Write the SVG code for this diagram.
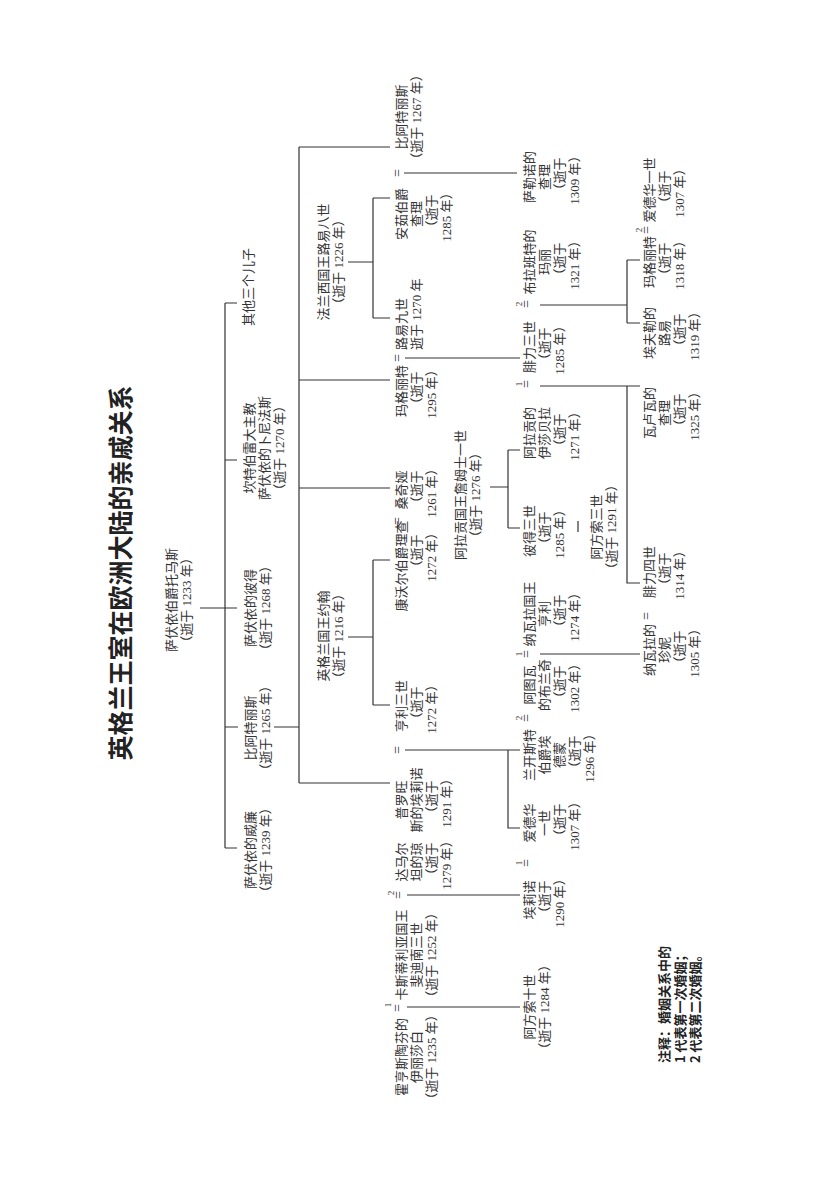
<svg xmlns="http://www.w3.org/2000/svg" width="826" height="1186" viewBox="0 0 826 1186">
<style>
.t{font-family:"Liberation Serif","Noto Sans CJK SC",serif;font-size:13px;fill:#333;text-anchor:middle}
.st{text-anchor:start}
.title{font-size:25px;font-weight:bold;fill:#222}
.note{font-family:"Noto Sans CJK SC",sans-serif;font-size:13px;font-weight:bold;fill:#222;text-anchor:start}
.eq{font-family:"Liberation Serif",serif;font-size:14px;fill:#333;text-anchor:middle}
.sup{font-family:"Liberation Serif",serif;font-size:9px;fill:#333;text-anchor:middle}
.c{fill:none;stroke:#333;stroke-width:1.2}
</style>
<rect width="826" height="1186" fill="#fff"/>
<g id="connectors">
<path class="c" d="M200,608H237M225,303V848M225,303H237M225,460H237M225,848H237M225,727H238M274,727H299"/>
<path class="c" d="M299,147V783M299,147H390M299,380H390M299,488H390M299,783H390"/>
<path class="c" d="M348,262H373M373,198V318M373,198H390M373,318H390"/>
<path class="c" d="M348,637H373M373,560V705M373,560H390M373,705H390"/>
<path class="c" d="M404,173H517"/>
<path class="c" d="M405,358H520"/>
<path class="c" d="M405,750H520M508,750V828H520"/>
<path class="c" d="M407,895H520M407,1007H520"/>
<path class="c" d="M490,487H508M508,450V528M508,450H520M508,528H520M578,521V532"/>
<path class="c" d="M540,305H627M627,260V323M627,260H640M627,323H640"/>
<path class="c" d="M540,386H640M627,386V583H640"/>
<path class="c" d="M540,654H640"/>
</g>
<g id="marks">
<text class="eq" transform="translate(402,173) rotate(-90)">=</text>
<text class="eq" transform="translate(402,358) rotate(-90)">=</text>
<text class="eq" transform="translate(402,521) rotate(-90)">=</text>
<text class="eq" transform="translate(402,750) rotate(-90)">=</text>
<text class="eq" transform="translate(403,895) rotate(-90)">=</text>
<text class="sup" transform="translate(394,893) rotate(-90)">2</text>
<text class="eq" transform="translate(402,1008) rotate(-90)">=</text>
<text class="sup" transform="translate(391,1005) rotate(-90)">1</text>
<text class="eq" transform="translate(531,304) rotate(-90)">=</text>
<text class="sup" transform="translate(522,304) rotate(-90)">2</text>
<text class="eq" transform="translate(531,384) rotate(-90)">=</text>
<text class="sup" transform="translate(522,384) rotate(-90)">1</text>
<text class="eq" transform="translate(531,654) rotate(-90)">=</text>
<text class="sup" transform="translate(522,654) rotate(-90)">1</text>
<text class="eq" transform="translate(531,718) rotate(-90)">=</text>
<text class="sup" transform="translate(522,718) rotate(-90)">2</text>
<text class="eq" transform="translate(531,863) rotate(-90)">=</text>
<text class="sup" transform="translate(522,863) rotate(-90)">1</text>
<text class="eq" transform="translate(651,230) rotate(-90)">=</text>
<text class="sup" transform="translate(642,230) rotate(-90)">2</text>
<text class="eq" transform="translate(651,616) rotate(-90)">=</text>
</g>
<g id="title"><text class="t title" transform="translate(130,573) rotate(-90)">英格兰王室在欧洲大陆的亲戚关系</text></g>
<g id="thomas"><text class="t" transform="translate(176,600) rotate(-90)"><tspan x="0" y="0">萨伏依伯爵托马斯</tspan><tspan x="0" y="15">（逝于 1233 年）</tspan></text></g>
<g id="others"><text class="t" transform="translate(253,287) rotate(-90)">其他三个儿子</text></g>
<g id="boniface"><text class="t" transform="translate(254,448) rotate(-90)"><tspan x="0" y="0">坎特伯雷大主教</tspan><tspan x="0" y="15">萨伏依的卜尼法斯</tspan><tspan x="0" y="30">（逝于 1270 年）</tspan></text></g>
<g id="peter"><text class="t" transform="translate(255,608) rotate(-90)"><tspan x="0" y="0">萨伏依的彼得</tspan><tspan x="0" y="15">（逝于 1268 年）</tspan></text></g>
<g id="beatrice1265"><text class="t" transform="translate(255,728) rotate(-90)"><tspan x="0" y="0">比阿特丽斯</tspan><tspan x="0" y="15">（逝于 1265 年）</tspan></text></g>
<g id="william"><text class="t" transform="translate(255,850) rotate(-90)"><tspan x="0" y="0">萨伏依的威廉</tspan><tspan x="0" y="15">（逝于 1239 年）</tspan></text></g>
<g id="louis8"><text class="t" transform="translate(328,262) rotate(-90)"><tspan x="0" y="0">法兰西国王路易八世</tspan><tspan x="0" y="15">（逝于 1226 年）</tspan></text></g>
<g id="john"><text class="t" transform="translate(328,636) rotate(-90)"><tspan x="0" y="0">英格兰国王约翰</tspan><tspan x="0" y="15">（逝于 1216 年）</tspan></text></g>
<g id="beatrice1267"><text class="t" transform="translate(406,117) rotate(-90)"><tspan x="0" y="0">比阿特丽斯</tspan><tspan x="0" y="15">（逝于 1267 年）</tspan></text></g>
<g id="charles-anjou"><text class="t" transform="translate(406,214) rotate(-90)"><tspan x="0" y="0">安茹伯爵</tspan><tspan x="0" y="15">查理</tspan><tspan x="0" y="30">（逝于</tspan><tspan x="0" y="45">1285 年）</tspan></text></g>
<g id="louis9"><text class="t st" transform="translate(406,350) rotate(-90)"><tspan x="0" y="0">路易九世</tspan><tspan x="0" y="15">逝于 1270 年</tspan></text></g>
<g id="margaret1295"><text class="t" transform="translate(406,391) rotate(-90)"><tspan x="0" y="0">玛格丽特</tspan><tspan x="0" y="15">（逝于</tspan><tspan x="0" y="30">1295 年）</tspan></text></g>
<g id="sanchia"><text class="t" transform="translate(406,490) rotate(-90)"><tspan x="0" y="0">桑奇娅</tspan><tspan x="0" y="15">（逝于</tspan><tspan x="0" y="30">1261 年）</tspan></text></g>
<g id="richard"><text class="t" transform="translate(406,566) rotate(-90)"><tspan x="0" y="0">康沃尔伯爵理查</tspan><tspan x="12" y="15">（逝于</tspan><tspan x="12" y="30">1272 年）</tspan></text></g>
<g id="henry3"><text class="t" transform="translate(406,706) rotate(-90)"><tspan x="0" y="0">亨利三世</tspan><tspan x="0" y="15">（逝于</tspan><tspan x="0" y="30">1272 年）</tspan></text></g>
<g id="eleanor-provence"><text class="t" transform="translate(406,800) rotate(-90)"><tspan x="0" y="0">普罗旺</tspan><tspan x="0" y="15">斯的埃莉诺</tspan><tspan x="0" y="30">（逝于</tspan><tspan x="0" y="45">1291 年）</tspan></text></g>
<g id="joan-dammartin"><text class="t" transform="translate(406,862) rotate(-90)"><tspan x="0" y="0">达马尔</tspan><tspan x="0" y="15">坦的琼</tspan><tspan x="0" y="30">（逝于</tspan><tspan x="0" y="45">1279 年）</tspan></text></g>
<g id="ferdinand3"><text class="t" transform="translate(406,955) rotate(-90)"><tspan x="0" y="0">卡斯蒂利亚国王</tspan><tspan x="0" y="15">斐迪南三世</tspan><tspan x="0" y="30">（逝于 1252 年）</tspan></text></g>
<g id="elisabeth"><text class="t" transform="translate(406,1057) rotate(-90)"><tspan x="0" y="0">霍亨斯陶芬的</tspan><tspan x="0" y="15">伊丽莎白</tspan><tspan x="0" y="30">（逝于 1235 年）</tspan></text></g>
<g id="james1"><text class="t" transform="translate(465,495) rotate(-90)"><tspan x="0" y="0">阿拉贡国王詹姆士一世</tspan><tspan x="0" y="15">（逝于 1276 年）</tspan></text></g>
<g id="charles-salerno"><text class="t" transform="translate(534,177) rotate(-90)"><tspan x="0" y="0">萨勒诺的</tspan><tspan x="0" y="15">查理</tspan><tspan x="0" y="30">（逝于</tspan><tspan x="0" y="45">1309 年）</tspan></text></g>
<g id="maria-brabant"><text class="t" transform="translate(534,262) rotate(-90)"><tspan x="0" y="0">布拉班特的</tspan><tspan x="0" y="15">玛丽</tspan><tspan x="0" y="30">（逝于</tspan><tspan x="0" y="45">1321 年）</tspan></text></g>
<g id="philip3"><text class="t" transform="translate(534,347) rotate(-90)"><tspan x="0" y="0">腓力三世</tspan><tspan x="0" y="15">（逝于</tspan><tspan x="0" y="30">1285 年）</tspan></text></g>
<g id="isabella"><text class="t" transform="translate(534,433) rotate(-90)"><tspan x="0" y="0">阿拉贡的</tspan><tspan x="0" y="15">伊莎贝拉</tspan><tspan x="0" y="30">（逝于</tspan><tspan x="0" y="45">1271 年）</tspan></text></g>
<g id="peter3"><text class="t" transform="translate(534,531) rotate(-90)"><tspan x="0" y="0">彼得三世</tspan><tspan x="0" y="15">（逝于</tspan><tspan x="0" y="30">1285 年）</tspan></text></g>
<g id="henry-navarre"><text class="t" transform="translate(534,614) rotate(-90)"><tspan x="0" y="0">纳瓦拉国王</tspan><tspan x="0" y="15">亨利</tspan><tspan x="0" y="30">（逝于</tspan><tspan x="0" y="45">1274 年）</tspan></text></g>
<g id="blanche"><text class="t" transform="translate(534,685) rotate(-90)"><tspan x="0" y="0">阿图瓦</tspan><tspan x="0" y="15">的布兰奇</tspan><tspan x="0" y="30">（逝于</tspan><tspan x="0" y="45">1302 年）</tspan></text></g>
<g id="edmund"><text class="t" transform="translate(534,755) rotate(-90)"><tspan x="0" y="0">兰开斯特</tspan><tspan x="0" y="15">伯爵埃</tspan><tspan x="0" y="30">德蒙</tspan><tspan x="0" y="45">（逝于</tspan><tspan x="0" y="60">1296 年）</tspan></text></g>
<g id="edward1"><text class="t" transform="translate(534,823) rotate(-90)"><tspan x="0" y="0">爱德华</tspan><tspan x="0" y="15">一世</tspan><tspan x="0" y="30">（逝于</tspan><tspan x="0" y="45">1307 年）</tspan></text></g>
<g id="eleanor-castile"><text class="t" transform="translate(534,900) rotate(-90)"><tspan x="0" y="0">埃莉诺</tspan><tspan x="0" y="15">（逝于</tspan><tspan x="0" y="30">1290 年）</tspan></text></g>
<g id="alfonso10"><text class="t" transform="translate(534,1007) rotate(-90)"><tspan x="0" y="0">阿方索十世</tspan><tspan x="0" y="15">（逝于 1284 年）</tspan></text></g>
<g id="alfonso3"><text class="t" transform="translate(601,527) rotate(-90)"><tspan x="0" y="0">阿方索三世</tspan><tspan x="0" y="15">（逝于 1291 年）</tspan></text></g>
<g id="edward1-b"><text class="t" transform="translate(654,190) rotate(-90)"><tspan x="0" y="0">爱德华一世</tspan><tspan x="0" y="15">（逝于</tspan><tspan x="0" y="30">1307 年）</tspan></text></g>
<g id="margaret1318"><text class="t" transform="translate(654,262) rotate(-90)"><tspan x="0" y="0">玛格丽特</tspan><tspan x="0" y="15">（逝于</tspan><tspan x="0" y="30">1318 年）</tspan></text></g>
<g id="louis-evreux"><text class="t" transform="translate(654,333) rotate(-90)"><tspan x="0" y="0">埃夫勒的</tspan><tspan x="0" y="15">路易</tspan><tspan x="0" y="30">（逝于</tspan><tspan x="0" y="45">1319 年）</tspan></text></g>
<g id="charles-valois"><text class="t" transform="translate(654,413) rotate(-90)"><tspan x="0" y="0">瓦卢瓦的</tspan><tspan x="0" y="15">查理</tspan><tspan x="0" y="30">（逝于</tspan><tspan x="0" y="45">1325 年）</tspan></text></g>
<g id="philip4"><text class="t" transform="translate(654,572) rotate(-90)"><tspan x="0" y="0">腓力四世</tspan><tspan x="0" y="15">（逝于</tspan><tspan x="0" y="30">1314 年）</tspan></text></g>
<g id="joan-navarre"><text class="t" transform="translate(654,650) rotate(-90)"><tspan x="0" y="0">纳瓦拉的</tspan><tspan x="0" y="15">珍妮</tspan><tspan x="0" y="30">（逝于</tspan><tspan x="0" y="45">1305 年）</tspan></text></g>
<g id="note"><text class="note" transform="translate(669,1063) rotate(-90)"><tspan x="0" y="0">注释：婚姻关系中的</tspan><tspan x="0" y="15.5">1 代表第一次婚姻；</tspan><tspan x="0" y="31">2 代表第二次婚姻。</tspan></text></g>
</svg>
